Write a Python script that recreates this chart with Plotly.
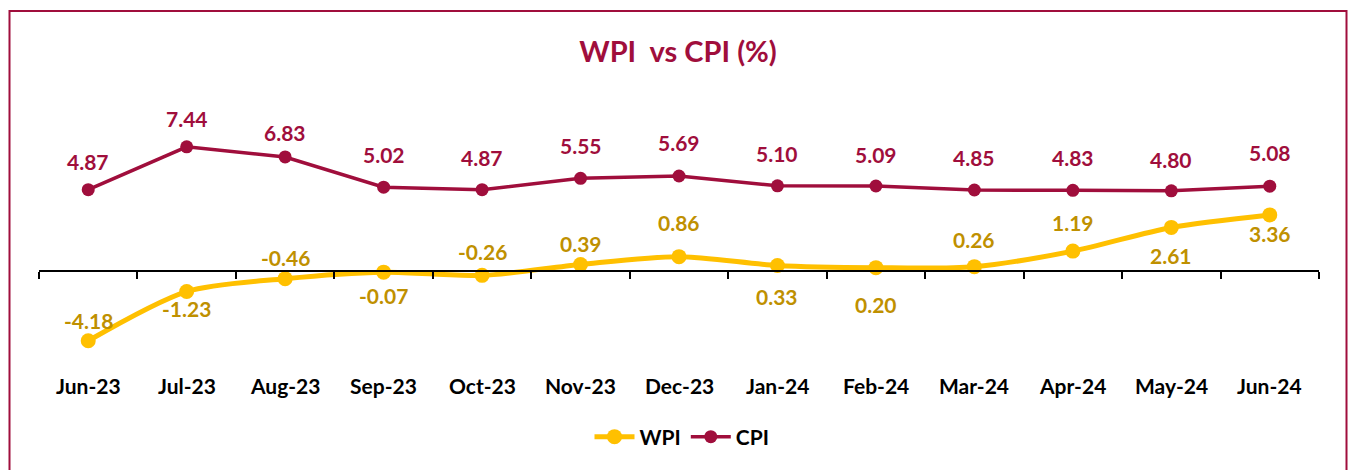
import plotly.graph_objects as go

months = ["Jun-23", "Jul-23", "Aug-23", "Sep-23", "Oct-23", "Nov-23", "Dec-23",
          "Jan-24", "Feb-24", "Mar-24", "Apr-24", "May-24", "Jun-24"]
wpi = [-4.18, -1.23, -0.46, -0.07, -0.26, 0.39, 0.86, 0.33, 0.20, 0.26, 1.19, 2.61, 3.36]
cpi = [4.87, 7.44, 6.83, 5.02, 4.87, 5.55, 5.69, 5.10, 5.09, 4.85, 4.83, 4.80, 5.08]

# label offsets in pixels (+ above, - below), styling only
wpi_label_shift = [20, -17, 21, -23, 24, 21, 34, -31, -37, 27, 29, -28, -19]
cpi_label_shift = [28, 28, 24, 33, 32, 33, 34, 32, 32, 33, 33, 31, 34]

MAROON = "#A00E3C"
GOLD = "#FFC000"
GOLD_TXT = "#BF9000"
FONT = "Lato"

W, H = 1348, 470
plot_left, plot_right, plot_top, plot_bottom = 39, 1319, 80, 375  # page px
ml = plot_left
mr = W - plot_right
mt = plot_top
mb = H - plot_bottom
plot_w = plot_right - plot_left
plot_h = plot_bottom - plot_top
ymin, ymax = -6.23, 11.44

x = list(range(len(months)))

fig = go.Figure()
fig.add_trace(go.Scatter(
    x=x, y=wpi, name="WPI", mode="lines+markers",
    line=dict(color=GOLD, width=5, shape="spline", smoothing=0.8),
    marker=dict(color=GOLD, size=15),
))
fig.add_trace(go.Scatter(
    x=x, y=cpi, name="CPI", mode="lines+markers",
    line=dict(color=MAROON, width=3.5),
    marker=dict(color=MAROON, size=13),
))

annotations = []
for i, v in enumerate(wpi):
    annotations.append(dict(x=i, y=v, xref="x", yref="y", text=f"{v:.2f}",
                            showarrow=False, yshift=wpi_label_shift[i],
                            font=dict(family=FONT, size=21, color=GOLD_TXT, weight="bold")))
for i, v in enumerate(cpi):
    annotations.append(dict(x=i, y=v, xref="x", yref="y", text=f"{v:.2f}",
                            showarrow=False, yshift=cpi_label_shift[i],
                            font=dict(family=FONT, size=21, color=MAROON, weight="bold")))
# category labels at the bottom of the plot area
for i, m in enumerate(months):
    annotations.append(dict(x=i, y=0, xref="x", yref="paper", text=m,
                            showarrow=False, yanchor="middle", yshift=-(385 - plot_bottom),
                            font=dict(family=FONT, size=21, color="black", weight="bold")))

p0 = (0 - ymin) / (ymax - ymin)
boundaries = [i - 0.5 for i in range(len(months) + 1)]

fig.update_layout(
    width=W, height=H,
    margin=dict(l=ml, r=mr, t=mt, b=mb),
    paper_bgcolor="white", plot_bgcolor="white",
    title=dict(text="WPI\u00a0 vs CPI (%)", x=678 / W, xanchor="center",
               y=1 - 52 / H, yanchor="middle",
               font=dict(family=FONT, size=29, color=MAROON, weight="bold")),
    xaxis=dict(range=[-0.5, len(months) - 0.5], tickvals=boundaries,
               showticklabels=False, ticks="outside", ticklen=7, tickwidth=1.5,
               tickcolor="black", showline=True, linecolor="black", linewidth=1.5,
               anchor="free", position=p0,
               showgrid=False, zeroline=False),
    yaxis=dict(range=[ymin, ymax], visible=False, showgrid=False, zeroline=False),
    showlegend=True,
    legend=dict(orientation="h", x=(682 - plot_left) / plot_w, xanchor="center",
                y=-(437 - plot_bottom) / plot_h, yanchor="middle",
                font=dict(family=FONT, size=21, color="black", weight="bold"),
                itemwidth=40),
    annotations=annotations,
)

# outer border of the chart area
fig.add_shape(type="rect", xref="paper", yref="paper",
              x0=(9.5 - plot_left) / plot_w, x1=(1346.5 - plot_left) / plot_w,
              y0=-(500 - plot_bottom) / plot_h, y1=(plot_bottom - 11) / plot_h,
              line=dict(color=MAROON, width=2), fillcolor="rgba(0,0,0,0)",
              layer="below")

fig.write_html(
    "out.html",
    config={"displayModeBar": False},
    post_script="document.body.style.margin='0';"
                "document.documentElement.style.overflow='hidden';"
                "document.body.style.overflow='hidden';",
)
